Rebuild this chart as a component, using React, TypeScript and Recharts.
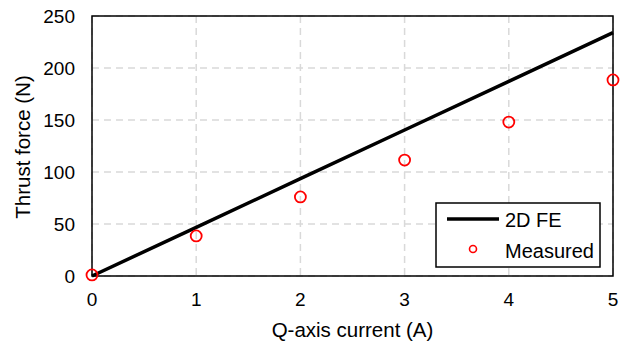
import React from 'react';
import {
  ComposedChart,
  Line,
  Scatter,
  XAxis,
  YAxis,
  CartesianGrid,
  ReferenceArea,
  Legend,
} from 'recharts';

const FONT = '"Liberation Sans", Arial, sans-serif';

const currents = [0, 1, 2, 3, 4, 5];
const feThrust = [0, 46.8, 93.6, 140.4, 187.2, 234];
const measuredThrust = [1, 38.5, 76, 111.5, 148, 188.5];
const xTicks = [0, 1, 2, 3, 4, 5];
const yTicks = [0, 50, 100, 150, 200, 250];

const feData = currents.map((q, i) => ({ q, fe: feThrust[i] }));
const measuredData = currents.map((q, i) => ({ q, measured: measuredThrust[i] }));

const RingDot = (props: any) => (
  <circle cx={props.cx} cy={props.cy} r={5.5} fill="none" stroke="#ff0000" strokeWidth={1.8} />
);

const LegendBox = () => (
  <svg width={166} height={66} style={{ display: 'block' }}>
    <rect x={1} y={1} width={164} height={64} fill="#fff" stroke="#000" strokeWidth={1.5} />
    <line x1={12} y1={17} x2={64} y2={17} stroke="#000" strokeWidth={3.5} />
    <text x={70} y={18} dy="0.36em" fontSize={20} fontFamily={FONT} fill="#000">2D FE</text>
    <circle cx={38} cy={47} r={3.5} fill="none" stroke="#ff0000" strokeWidth={1.6} />
    <text x={70} y={49} dy="0.36em" fontSize={20} fontFamily={FONT} fill="#000">Measured</text>
  </svg>
);

const YLabel = (props: any) => {
  const vb = props.viewBox;
  const cx = vb.x + 22;
  const cy = vb.y + vb.height / 2 + 1;
  return (
    <text
      x={cx}
      y={cy}
      transform={`rotate(-90, ${cx}, ${cy})`}
      textAnchor="middle"
      dominantBaseline="central"
      fontSize={20.5}
      fontFamily={FONT}
      fill="#000"
    >
      Thrust force (N)
    </text>
  );
};

export default function App() {
  return (
    <div style={{ position: 'absolute', left: 0, top: 0, width: 636, height: 341, background: '#fff' }}>
      <ComposedChart
        width={636}
        height={341}
        margin={{ top: 16, right: 23, bottom: 0, left: 0 }}
      >
        <CartesianGrid stroke="#d9d9d9" strokeWidth={1.5} strokeDasharray="7 5" />
        <XAxis
          dataKey="q"
          type="number"
          domain={[0, 5]}
          ticks={xTicks}
          height={65}
          axisLine={false}
          tickLine={false}
          tickSize={0}
          tickMargin={17}
          tick={{ fill: '#000', fontSize: 19, fontFamily: FONT }}
          label={{
            value: 'Q-axis current (A)',
            position: 'insideBottom',
            offset: 4,
            fill: '#000',
            fontSize: 20.5,
            fontFamily: FONT,
          }}
        />
        <YAxis
          type="number"
          domain={[0, 250]}
          ticks={yTicks}
          width={92}
          axisLine={false}
          tickLine={false}
          tickSize={0}
          tickMargin={17}
          tick={{ fill: '#000', fontSize: 19, fontFamily: FONT }}
          label={{ content: YLabel }}
        />
        <ReferenceArea x1={0} x2={5} y1={0} y2={250} fill="none" stroke="#000" strokeWidth={1.5} ifOverflow="visible" />
        <Line
          data={feData}
          dataKey="fe"
          type="linear"
          stroke="#000"
          strokeWidth={3.5}
          dot={false}
          isAnimationActive={false}
        />
        <Scatter
          data={measuredData}
          dataKey="measured"
          shape={RingDot}
          isAnimationActive={false}
        />
        <Legend
          layout="vertical"
          align="center"
          verticalAlign="middle"
          content={LegendBox}
          wrapperStyle={{ left: 435, top: 202, width: 166, height: 66 }}
        />
      </ComposedChart>
    </div>
  );
}
